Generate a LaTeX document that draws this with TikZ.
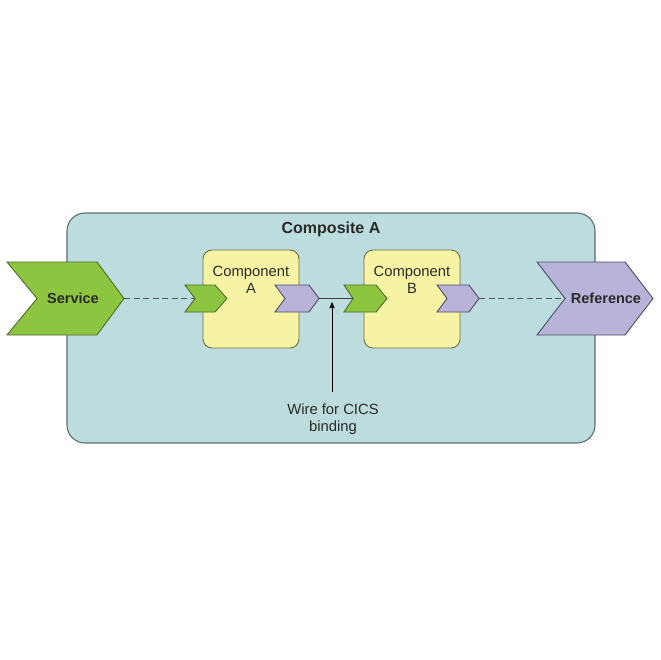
\documentclass[tikz,border=0pt]{standalone}
\usepackage{fontspec}
\setmainfont{Liberation Sans}
\usetikzlibrary{arrows.meta}
\definecolor{compfill}{HTML}{BCDCDD}
\definecolor{compdraw}{HTML}{5E6E6E}
\definecolor{grnfill}{HTML}{8DC440}
\definecolor{grndraw}{HTML}{4F6B2A}
\definecolor{purfill}{HTML}{B8B3D8}
\definecolor{purdraw}{HTML}{4E4B66}
\definecolor{yelfill}{HTML}{F6F4A4}
\definecolor{yeldraw}{HTML}{6E6E40}
\definecolor{txt}{HTML}{2A2A2A}
\tikzset{
  composite/.style={fill=compfill, draw=compdraw, line width=1.1pt, rounded corners=18pt},
  compbox/.style={fill=yelfill, draw=yeldraw, line width=0.9pt, rounded corners=9pt},
  grnchev/.style={fill=grnfill, draw=grndraw, line width=0.9pt},
  purchev/.style={fill=purfill, draw=purdraw, line width=0.9pt},
  lbl/.style={text=txt, font=\fontsize{14.8}{17}\selectfont, align=center, inner sep=0pt},
  blbl/.style={text=txt, font=\fontsize{14.5}{17}\selectfont\bfseries, inner sep=0pt},
  titlelbl/.style={text=txt, font=\fontsize{16}{18}\selectfont\bfseries, inner sep=0pt},
  dashwire/.style={draw=compdraw!80!black, line width=0.9pt, dash pattern=on 6pt off 3.5pt},
  solidwire/.style={draw=compdraw!60!black, line width=0.9pt},
}
\begin{document}
\begin{tikzpicture}[x=1pt,y=-1pt]
\useasboundingbox (0,0) rectangle (660,660);
\fill[white] (0,0) rectangle (660,660);
% composite
\draw[composite] (67,213) rectangle (595,443);
\node[titlelbl] (comptitle) at (331,229) {Composite A};
% components
\draw[compbox] (203,250) rectangle (299,348);
\draw[compbox] (364,250) rectangle (460,348);
\node[lbl] (compA) at (251,280) {Component\\A};
\node[lbl] (compB) at (412,280) {Component\\B};
% Service chevron
\draw[grnchev] (7,262) -- (97,262) -- (124,298.5) -- (97,335) -- (7,335) -- (37,298.5) -- cycle;
\coordinate (svtip) at (124,298.5);
\node[blbl] (service) at (73,298.5) {Service};
% Reference chevron
\draw[purchev] (537,262) -- (625,262) -- (653,298.5) -- (625,335) -- (537,335) -- (565,298.5) -- cycle;
\coordinate (refnotch) at (565,298.5);
\node[blbl] (reference) at (606,298.5) {Reference};
% small chevrons
\draw[grnchev] (185,285) -- (215,285) -- (227,298.5) -- (215,312) -- (185,312) -- (195,298.5) -- cycle;
\coordinate (agin) at (195,298.5);
\draw[purchev] (275,285) -- (309,285) -- (319,298.5) -- (309,312) -- (275,312) -- (285,298.5) -- cycle;
\coordinate (aout) at (319,298.5);
\draw[grnchev] (344,285) -- (376,285) -- (387,298.5) -- (376,312) -- (344,312) -- (353,298.5) -- cycle;
\coordinate (bin) at (353,298.5);
\draw[purchev] (437,285) -- (469,285) -- (479,298.5) -- (469,312) -- (437,312) -- (447,298.5) -- cycle;
\coordinate (bout) at (479,298.5);
% wires
\draw[dashwire] (svtip) -- (agin);
\draw[dashwire] (bout) -- (refnotch);
\draw[solidwire] (aout) -- (bin);
% annotation
\node[lbl] (wirelbl) at (333,419.5) {Wire for CICS\\binding};
\coordinate (arrtip) at (332,302);
\coordinate (arrbase) at (332,392);
\draw[black, line width=0.8pt, -{Triangle[length=6pt,width=5pt]}] (arrbase) -- (arrtip);
\end{tikzpicture}
\end{document}
